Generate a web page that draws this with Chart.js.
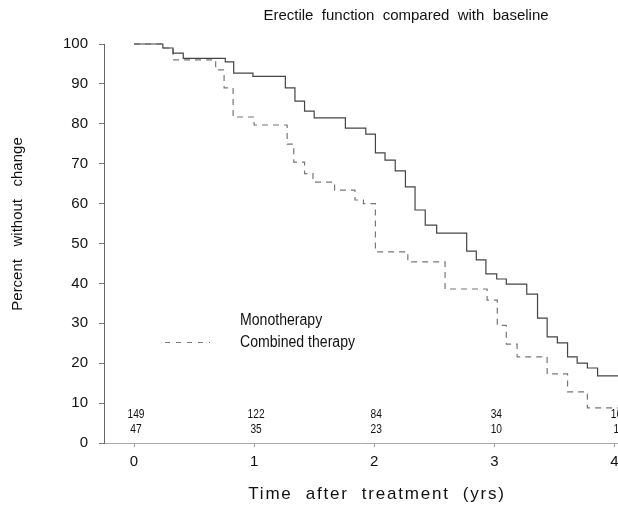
<!DOCTYPE html>
<html>
<head>
<meta charset="utf-8">
<script src="https://cdn.jsdelivr.net/npm/chart.js@4.4.1/dist/chart.umd.min.js"></script>
<style>
  html, body { margin: 0; padding: 0; background: #fff; }
  .chart-container { width: 618px; height: 505px; position: relative; }
</style>
</head>
<body>
<div class="chart-container"><canvas id="km"></canvas></div>
<script>
// Kaplan-Meier steps: time (yrs) -> percent without change
const monoTimes = [0, 0.24, 0.325, 0.41, 0.76, 0.83, 0.99, 1.26, 1.34, 1.42, 1.5, 1.76, 1.93, 2.01, 2.09, 2.175, 2.26, 2.34, 2.425, 2.52, 2.77, 2.85, 2.93, 3.02, 3.1, 3.27, 3.36, 3.44, 3.525, 3.61, 3.69, 3.775, 3.86, 4.03];
const monoPct = [100, 99, 97.7, 96.4, 95.5, 92.7, 91.9, 89, 85.7, 83.2, 81.5, 78.9, 77.4, 72.7, 70.9, 68.2, 64.2, 58.4, 54.6, 52.6, 48.1, 45.9, 42.4, 41.1, 39.8, 37.3, 31.3, 26.6, 25.1, 21.6, 20, 18.8, 16.8, 16.8];

const combTimes = [0, 0.24, 0.325, 0.68, 0.75, 0.825, 1.0, 1.275, 1.33, 1.42, 1.49, 1.67, 1.84, 1.91, 2.01, 2.28, 2.59, 2.94, 3.025, 3.1, 3.19, 3.44, 3.61, 3.775, 4.03];
const combPct = [100, 99, 96, 93.5, 89, 81.7, 79.7, 74.9, 70.4, 67.5, 65.4, 63.4, 60.9, 60, 47.9, 45.4, 38.6, 35.8, 29.5, 24.8, 21.6, 17.3, 12.8, 8.8, 8.8];

// numbers at risk
const riskTimes = [0, 1, 2, 3, 4];
const monoAtRisk = [149, 122, 84, 34, 16];
const combAtRisk = [47, 35, 23, 10, 1];

const xTicks = [0, 1, 2, 3, 4];
const yTicks = [0, 10, 20, 30, 40, 50, 60, 70, 80, 90, 100];

const seriesNames = ['Monotherapy', 'Combined therapy'];
const titleText = 'Erectile  function  compared  with  baseline';
const xTitle = 'Time  after  treatment  (yrs)';
const yTitle = 'Percent   without   change';

const toPoints = (ts, vs) => ts.map((t, i) => ({ x: t, y: vs[i] }));

const SANS = '"Liberation Sans", Arial, sans-serif';

// squeezed text, the scan has narrow lettering
function narrowText(ctx, s, x, y, sx) {
  ctx.save();
  ctx.translate(x, y);
  ctx.scale(sx, 1);
  ctx.fillText(s, 0, 0);
  ctx.restore();
}

// titles, numbers at risk and the legend are placed by hand
const annotate = {
  id: 'annotate',
  afterDraw(chart) {
    const { ctx, scales: { x, y } } = chart;
    ctx.save();
    ctx.fillStyle = '#111';
    ctx.textAlign = 'center';
    ctx.textBaseline = 'middle';

    ctx.font = '15px ' + SANS;
    ctx.fillText(titleText, 406, 16);

    ctx.save();
    ctx.font = '17px ' + SANS;
    ctx.letterSpacing = '1.8px';
    ctx.fillText(xTitle, 377, 494);
    ctx.restore();

    ctx.save();
    ctx.font = '15px ' + SANS;
    ctx.translate(18, 224);
    ctx.rotate(-Math.PI / 2);
    ctx.fillText(yTitle, 0, 0);
    ctx.restore();

    // numbers at risk
    ctx.font = '12px ' + SANS;
    ctx.textBaseline = 'alphabetic';
    const y0 = y.getPixelForValue(0);
    riskTimes.forEach((t, i) => {
      const px = x.getPixelForValue(t) + 2;
      narrowText(ctx, String(monoAtRisk[i]), px, y0 - 25, 0.85);
      narrowText(ctx, String(combAtRisk[i]), px, y0 - 10, 0.85);
    });

    // legend
    ctx.textAlign = 'left';
    ctx.font = '16px ' + SANS;
    narrowText(ctx, seriesNames[0], 240, 325, 0.88);
    narrowText(ctx, seriesNames[1], 240, 347, 0.88);
    ctx.strokeStyle = '#777';
    ctx.lineWidth = 1;
    ctx.setLineDash([5, 6]);
    ctx.beginPath();
    ctx.moveTo(165, 342.5);
    ctx.lineTo(210, 342.5);
    ctx.stroke();
    ctx.restore();
  }
};

new Chart(document.getElementById('km'), {
  type: 'line',
  data: {
    datasets: [
      {
        label: seriesNames[0],
        data: toPoints(monoTimes, monoPct),
        stepped: 'before',
        borderColor: '#444',
        borderWidth: 1.2,
        pointRadius: 0,
        fill: false
      },
      {
        label: seriesNames[1],
        data: toPoints(combTimes, combPct),
        stepped: 'before',
        borderColor: '#777',
        borderWidth: 1.2,
        borderDash: [6, 5],
        pointRadius: 0,
        fill: false
      }
    ]
  },
  options: {
    responsive: true,
    maintainAspectRatio: false,
    animation: false,
    layout: { padding: { top: 44, right: 0, left: 0, bottom: 0 } },
    plugins: {
      legend: { display: false },
      title: { display: false },
      tooltip: { enabled: false }
    },
    elements: { line: { tension: 0 } },
    clip: false,
    scales: {
      x: {
        type: 'linear',
        min: -0.25,
        max: 4.03,
        afterBuildTicks: s => { s.ticks = xTicks.map(v => ({ value: v })); },
        afterFit: s => { s.height = 62; s.paddingRight = 0; s.paddingLeft = 0; },
        grid: { drawOnChartArea: false, drawTicks: true, tickLength: 4, color: '#999' },
        border: { display: true, color: '#aaa', width: 1 },
        ticks: { color: '#111', padding: 6, font: { family: SANS, size: 15 }, maxRotation: 0 }
      },
      y: {
        min: 0,
        max: 100,
        afterBuildTicks: s => { s.ticks = yTicks.map(v => ({ value: v })); },
        afterFit: s => { s.width = 104; },
        grid: { drawOnChartArea: false, drawTicks: true, tickLength: 5, color: '#777' },
        border: { display: true, color: '#666', width: 1 },
        ticks: { color: '#111', padding: 11, font: { family: SANS, size: 15 } }
      }
    }
  },
  plugins: [annotate]
});
</script>
</body>
</html>
